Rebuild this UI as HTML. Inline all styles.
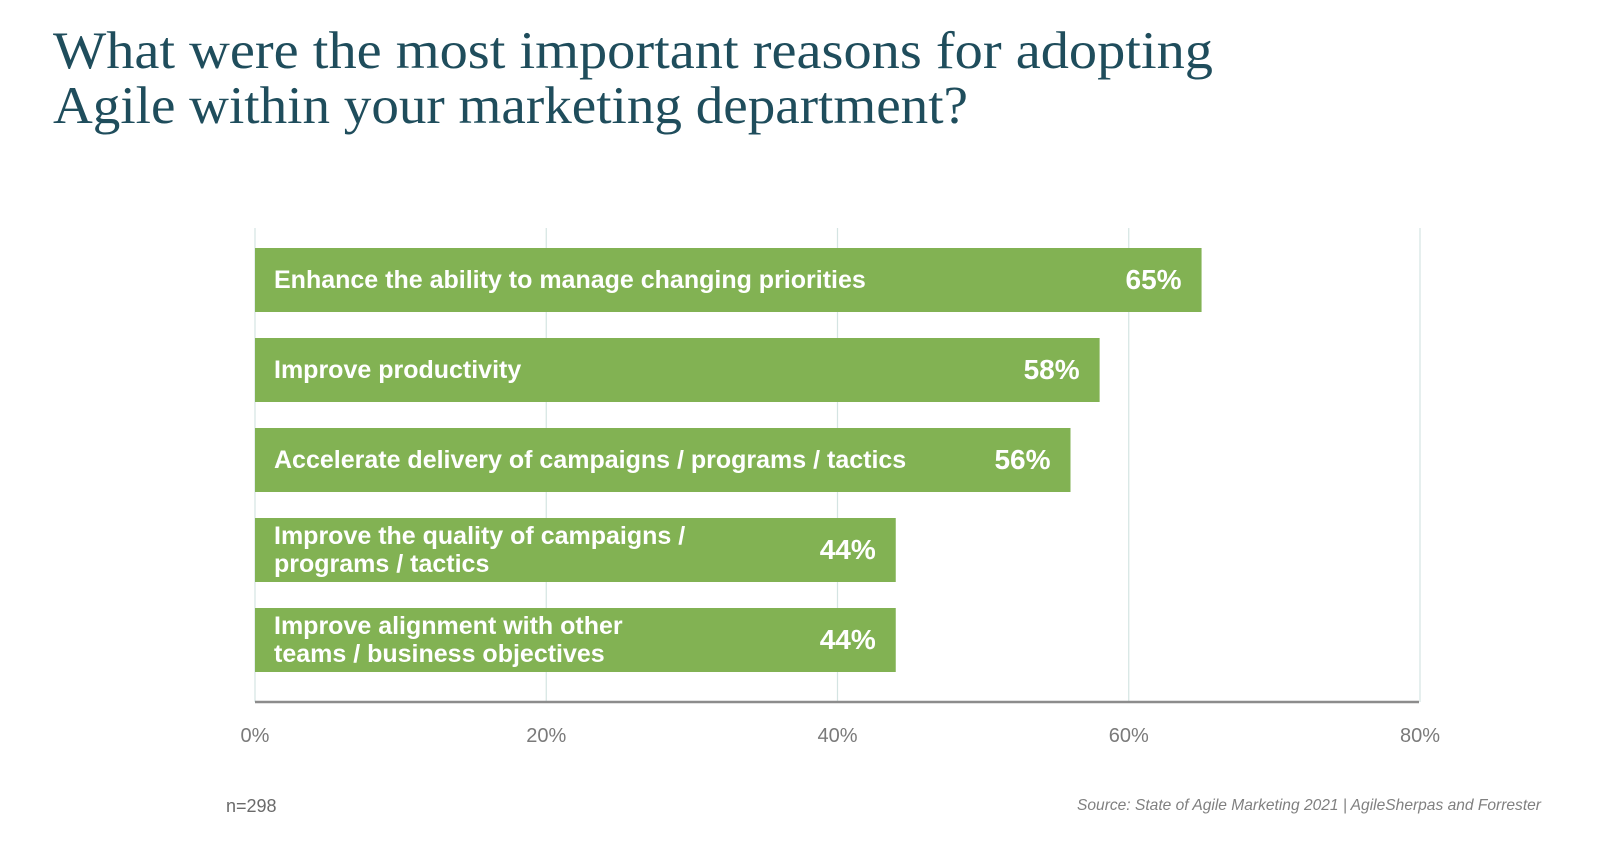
<!DOCTYPE html>
<html><head><meta charset="utf-8"><style>
html,body{margin:0;padding:0;background:#fff;}
svg{display:block;}
</style></head><body>
<svg id="chart" width="1600" height="851" viewBox="0 0 1600 851" font-family="'Liberation Sans', sans-serif">
<g fill="#1f4d5c" font-family="'Liberation Serif', serif" font-size="53">
<text x="53" y="68" textLength="1160" lengthAdjust="spacingAndGlyphs">What were the most important reasons for adopting</text>
<text x="53" y="123" textLength="915" lengthAdjust="spacingAndGlyphs">Agile within your marketing department?</text>
</g>
<g id="grid"></g>
<g id="bars"></g>
<line x1="255" y1="702" x2="1419" y2="702" stroke="#8c8c8c" stroke-width="2.5"/>
<g id="ticks" fill="#7a7a7a" font-size="20" text-anchor="middle"></g>
<text x="226" y="812" fill="#6a6a6a" font-size="18">n=298</text>
<text x="1541" y="810" fill="#808080" font-size="16" font-style="italic" text-anchor="end" textLength="464" lengthAdjust="spacingAndGlyphs">Source: State of Agile Marketing 2021 | AgileSherpas and Forrester</text>
</svg>
<script>
const categories = [
 ["Enhance the ability to manage changing priorities"],
 ["Improve productivity"],
 ["Accelerate delivery of campaigns / programs / tactics"],
 ["Improve the quality of campaigns /","programs / tactics"],
 ["Improve alignment with other","teams / business objectives"]
];
const values = [65, 58, 56, 44, 44];
const tickValues = [0, 20, 40, 60, 80];
const tickLabels = ["0%", "20%", "40%", "60%", "80%"];

const NS = "http://www.w3.org/2000/svg";
const x0 = 255, x1 = 1420, xMax = 80;
const xs = v => x0 + (v / xMax) * (x1 - x0);
const bandTop = 248, bandStep = 90, barH = 64;
const ys = i => bandTop + i * bandStep;
function mk(tag, attrs){const e=document.createElementNS(NS,tag);for(const k in attrs)e.setAttribute(k,attrs[k]);return e;}

const grid = document.getElementById('grid');
const ticks = document.getElementById('ticks');
tickValues.forEach((v,i)=>{
  const l = mk('line',{x1:xs(v),x2:xs(v),y1:228,y2:702,stroke:'#d4e4e2','stroke-width':1.2});
  
  
  grid.appendChild(l);
  const t = mk('text',{x:xs(v),y:742});
  t.textContent = tickLabels[i];
  
  
  ticks.appendChild(t);
});

const bars = document.getElementById('bars');
values.forEach((v,i)=>{
  const g = mk('g',{});
  
  
  const r = mk('rect',{x:x0,y:ys(i),width:xs(v)-x0,height:barH,fill:'#82b253'});
  
  
  g.appendChild(r);
  const lines = categories[i];
  lines.forEach((s,j)=>{
    const base = lines.length===1 ? ys(i)+40 : ys(i)+26+j*28;
    const t = mk('text',{x:x0+19,y:base,fill:'#fff','font-size':25,'font-weight':'bold'});
    t.textContent = s;
    
    
    g.appendChild(t);
  });
  const p = mk('text',{x:xs(v)-20,y:ys(i)+41,fill:'#fff','font-size':28,'font-weight':'bold','text-anchor':'end'});
  p.textContent = v + '%';
  
  
  g.appendChild(p);
  bars.appendChild(g);
});
</script>
</body></html>
